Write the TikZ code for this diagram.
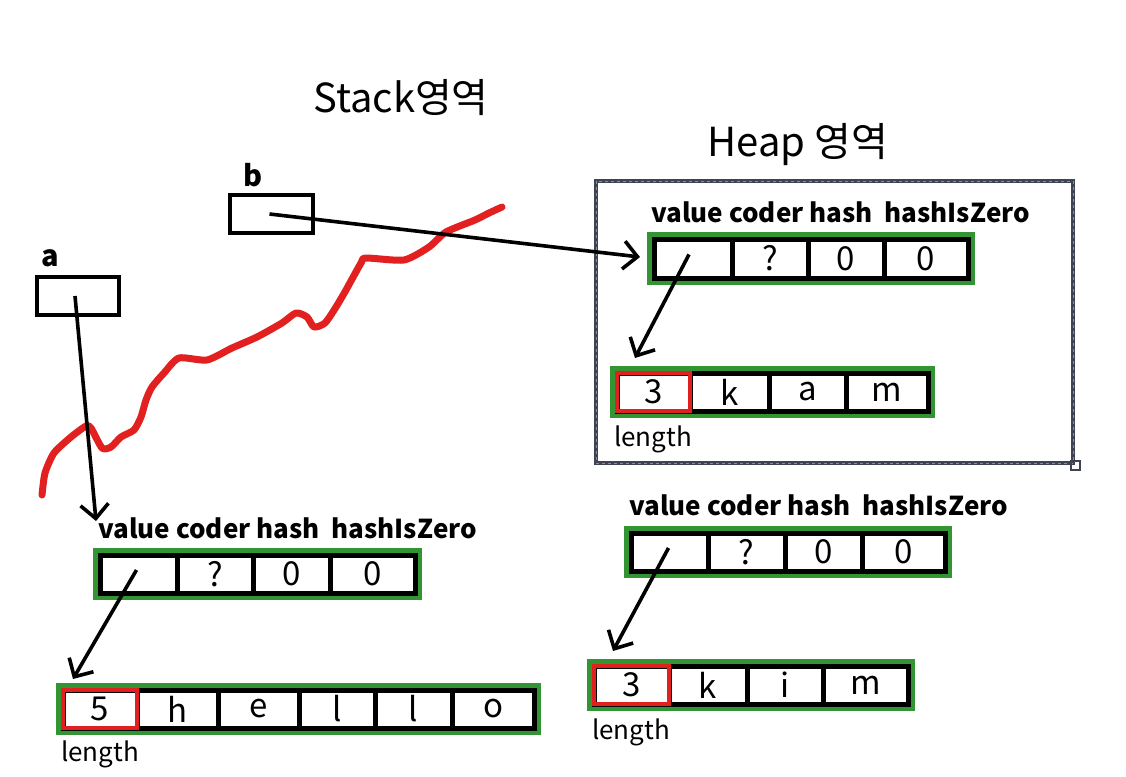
\documentclass[tikz,border=0pt]{standalone}
\usepackage{fontspec}
\setmainfont{Noto Sans CJK KR}
\usetikzlibrary{arrows.meta}
\definecolor{grn}{RGB}{50,148,50}
\definecolor{rd}{RGB}{226,32,32}
\definecolor{frm}{RGB}{62,68,84}
\begin{document}
\begin{tikzpicture}[x=1pt,y=-1pt,
  cell/.style={draw=black, line width=5pt, inner sep=0pt, anchor=center, font=\fontsize{33}{38}\selectfont},
  lencell/.style={draw=rd, line width=4.5pt},
  grnbox/.style={draw=grn, line width=5.5pt},
  varbox/.style={draw=black, line width=3.8pt, inner sep=0pt},
  ptr/.style={draw=black, line width=3.6pt, -{Straight Barb[length=14pt,width=28pt,line width=3.6pt]}},
  hdr/.style={font=\fontsize{26}{30}\selectfont\bfseries, anchor=base west, inner sep=0pt},
  lenlbl/.style={font=\fontsize{26}{30}\selectfont, anchor=base west, inner sep=0pt},
  title/.style={font=\fontsize{40}{46}\selectfont, inner sep=0pt},
  varlbl/.style={font=\fontsize{29}{34}\selectfont\bfseries, inner sep=0pt}]
\useasboundingbox (0,0) rectangle (1126,776);
\fill[white] (0,0) rectangle (1126,776);

% titles
\node[title] (stitle) at (401,98) {Stack영역};
\node[title] (htitle) at (798,145) {Heap 영역};

% heap frame
\draw[frm, line width=4.5pt] (596,181) rectangle (1073,463);
\draw[frm!60!white, line width=0.8pt, dash pattern=on 3pt off 3pt] (596,181) rectangle (1073,463);
\draw[frm, line width=1.2pt] (1071,461) rectangle (1080,470);

% red hand-drawn line
\draw[rd, line width=7pt, line cap=round, line join=round] plot[smooth, tension=0.4] coordinates {
 (42,495) (45,473) (54,453) (71,437) (86,426) (91,428) (102,448) (111,447) (121,437)
 (134,430) (141,417) (146,400) (152,387) (164,373) (179,358) (207,360) (232,348)
 (257,337) (282,323) (296,313) (307,317) (314,327) (325,323) (336,307) (346,290)
 (361,263) (366,258) (404,260) (429,247) (446,232) (475,220) (489,213) (502,207)};

% stack variables
\node[varlbl] (blbl) at (253,175) {b};
\node[varbox, minimum width=83pt, minimum height=38pt] (bbox) at (271.5,214) {};
\node[varlbl] (albl) at (50,258) {a};
\node[varbox, minimum width=82pt, minimum height=38pt] (abox) at (78,296) {};

% ---------- heap: top object ----------
\node[hdr] (hthdr) at (651,222) {value coder hash \ hashIsZero};
\draw[grnbox] (649.5,234.5) rectangle (972.5,282.5);
\foreach \l/\r/\t [count=\i] in {654/732/,732/808/?,808/884/0,884/968/0}
  \node[cell, minimum width={\r-\l}, minimum height=39pt] (ht\i) at ({(\l+\r)/2},258.5) {\t};

% heap: kam array
\draw[grnbox] (612.5,368.5) rectangle (932.5,415.5);
\foreach \l/\r/\t [count=\i] in {617/690/3,690/769/k,769/846/a,846/928/m}
  \node[cell, minimum width={\r-\l}, minimum height=38pt] (hb\i) at ({(\l+\r)/2},392) {\t};
\draw[lencell] (617,373) rectangle (690,411);
\node[lenlbl] (hblen) at (614,446) {length};

% ---------- bottom left object ----------
\node[hdr] (lthdr) at (98,538) {value coder hash \ hashIsZero};
\draw[grnbox] (95.5,550.5) rectangle (419.5,597.5);
\foreach \l/\r/\t [count=\i] in {100/177/,177/253/?,253/330/0,330/415/0}
  \node[cell, minimum width={\r-\l}, minimum height=38pt] (lt\i) at ({(\l+\r)/2},574) {\t};

\draw[grnbox] (58.5,685.5) rectangle (538.5,732.5);
\foreach \l/\r/\t [count=\i] in {63/137/5,137/218/h,218/299/e,299/375/l,375/452/l,452/534/o}
  \node[cell, minimum width={\r-\l}, minimum height=38pt] (lb\i) at ({(\l+\r)/2},709) {\t};
\draw[lencell] (63,690) rectangle (137,728);
\node[lenlbl] (lblen) at (61,761) {length};

% ---------- bottom right object ----------
\node[hdr] (rthdr) at (629,515) {value coder hash \ hashIsZero};
\draw[grnbox] (626.5,528.5) rectangle (949.5,575.5);
\foreach \l/\r/\t [count=\i] in {631/708/,708/785/?,785/862/0,862/945/0}
  \node[cell, minimum width={\r-\l}, minimum height=38pt] (rt\i) at ({(\l+\r)/2},552) {\t};

\draw[grnbox] (589.5,661.5) rectangle (912.5,708.5);
\foreach \l/\r/\t [count=\i] in {594/669/3,669/747/k,747/823/i,823/908/m}
  \node[cell, minimum width={\r-\l}, minimum height=38pt] (rb\i) at ({(\l+\r)/2},685) {\t};
\draw[lencell] (594,666) rectangle (669,704);
\node[lenlbl] (rblen) at (592,739) {length};

% arrow end points
\coordinate (btip) at (640,257);
\coordinate (atip) at (96,521);
\coordinate (hbtip) at (635,358);
\coordinate (lbtip) at (73,679);
\coordinate (rbtip) at (613,651);

% pointers
\draw[ptr] ([xshift=-2pt]bbox.center) -- (btip);
\draw[ptr] ([xshift=-3pt]abox.center) -- (atip);
\draw[ptr] ([xshift=-4pt,yshift=4pt]ht1.center) -- (hbtip);
\draw[ptr] ([xshift=-2pt,yshift=4pt]lt1.center) -- (lbtip);
\draw[ptr] ([xshift=-1pt,yshift=4pt]rt1.center) -- (rbtip);
\end{tikzpicture}
\end{document}
